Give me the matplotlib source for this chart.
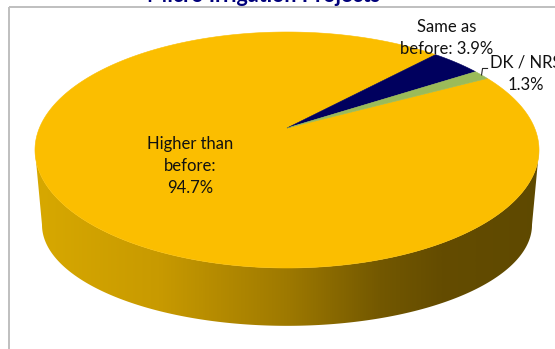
import numpy as np
import matplotlib.pyplot as plt
from matplotlib.patches import Polygon
from matplotlib.colors import LinearSegmentedColormap

plt.rcParams['font.family'] = ['Lato', 'DejaVu Sans']

# survey answers
categories = ['Higher than\nbefore', 'Same as\nbefore', 'DK / NRS']
values = [94.7, 3.9, 1.3]
slice_colors = ['#FBBE00', '#00005E', '#9BBB59']
title = 'Micro Irrigation Projects'

W, H = 555, 349
fig = plt.figure(figsize=(W / 100, H / 100), dpi=100)
ax = fig.add_axes([0, 0, 1, 1])
ax.set_xlim(0, W)
ax.set_ylim(H, 0)
ax.axis('off')

# chart area border (left and top edges only show)
ax.plot([9, 9], [7, H + 5], color='#BFBFBF', lw=1.4, solid_capstyle='butt')
ax.plot([9, W + 5], [7, 7], color='#BFBFBF', lw=1.4, solid_capstyle='butt')

ax.text(264, 2, title, ha='center', va='baseline', fontsize=15.5,
        fontweight='bold', color='#00007A')

# perspective disc: top face and bottom face
cx = 287
k = 0.1864
top = dict(cy=128, a=247.6, b=113.9)
bot = dict(cy=206, a=240.7, b=97.5)


def proj(theta, face):
    u, v = np.cos(theta), np.sin(theta)
    w = 1 + k * v
    return cx + face['a'] * u / w, face['cy'] - face['b'] * v / w


# side wall, visible between the two tangent points
t0 = np.pi + np.arcsin(k)
t1 = 2 * np.pi - np.arcsin(k)
ts = np.linspace(t0, t1, 300)
xt, yt = proj(ts, top)
xb, yb = proj(ts[::-1], bot)
side = Polygon(np.c_[np.r_[xt, xb], np.r_[yt, yb]], closed=True,
               facecolor='none', edgecolor='none')
ax.add_patch(side)
side_cmap = LinearSegmentedColormap.from_list('side', [
    (0.00, '#D8A900'), (0.25, '#C89A00'), (0.50, '#9E7900'),
    (0.68, '#735800'), (0.80, '#644C00'), (1.00, '#5E4900')])
grad = np.linspace(0, 1, 512)[None, :]
im = ax.imshow(grad, cmap=side_cmap, extent=[30, 545, H, 0], aspect='auto',
               interpolation='bilinear', zorder=1)
im.set_clip_path(side)
ax.set_xlim(0, W)
ax.set_ylim(H, 0)

# top face slices, clockwise from the start angle
frac = np.array(values) / np.sum(values)
start = np.deg2rad(28.3)
edges = start - 2 * np.pi * np.r_[0, np.cumsum(frac)]
mids = []
for i in range(len(values)):
    th = np.linspace(edges[i], edges[i + 1], max(int(400 * frac[i]), 20))
    px, py = proj(th, top)
    poly = Polygon(np.c_[np.r_[cx, px], np.r_[top['cy'], py]], closed=True,
                   facecolor=slice_colors[i], edgecolor=slice_colors[i],
                   lw=0.4, zorder=2)
    ax.add_patch(poly)
    mids.append((edges[i] + edges[i + 1]) / 2)

fs = 12
ls = 1.47
ax.text(190, 166, '%s:\n%.1f%%' % (categories[0], values[0]),
        ha='center', va='center', fontsize=fs, color='#111111',
        linespacing=ls, zorder=3)
ax.text(447, 38, '%s: %.1f%%' % (categories[1], values[1]), ha='center',
        va='center', fontsize=fs, color='#111111', linespacing=ls, zorder=3)
ax.text(526, 74, '%s\n%.1f%%' % (categories[2], values[2]), ha='center',
        va='center', fontsize=fs, color='#111111', linespacing=ls, zorder=3)

# leader line for the small slice
lx, ly = proj(mids[2], top)
ax.plot([lx, lx + 1, lx + 6], [ly, ly - 6.5, ly - 6.5], color='#262626',
        lw=0.8, zorder=3)

fig.savefig('out.png', dpi=100)
